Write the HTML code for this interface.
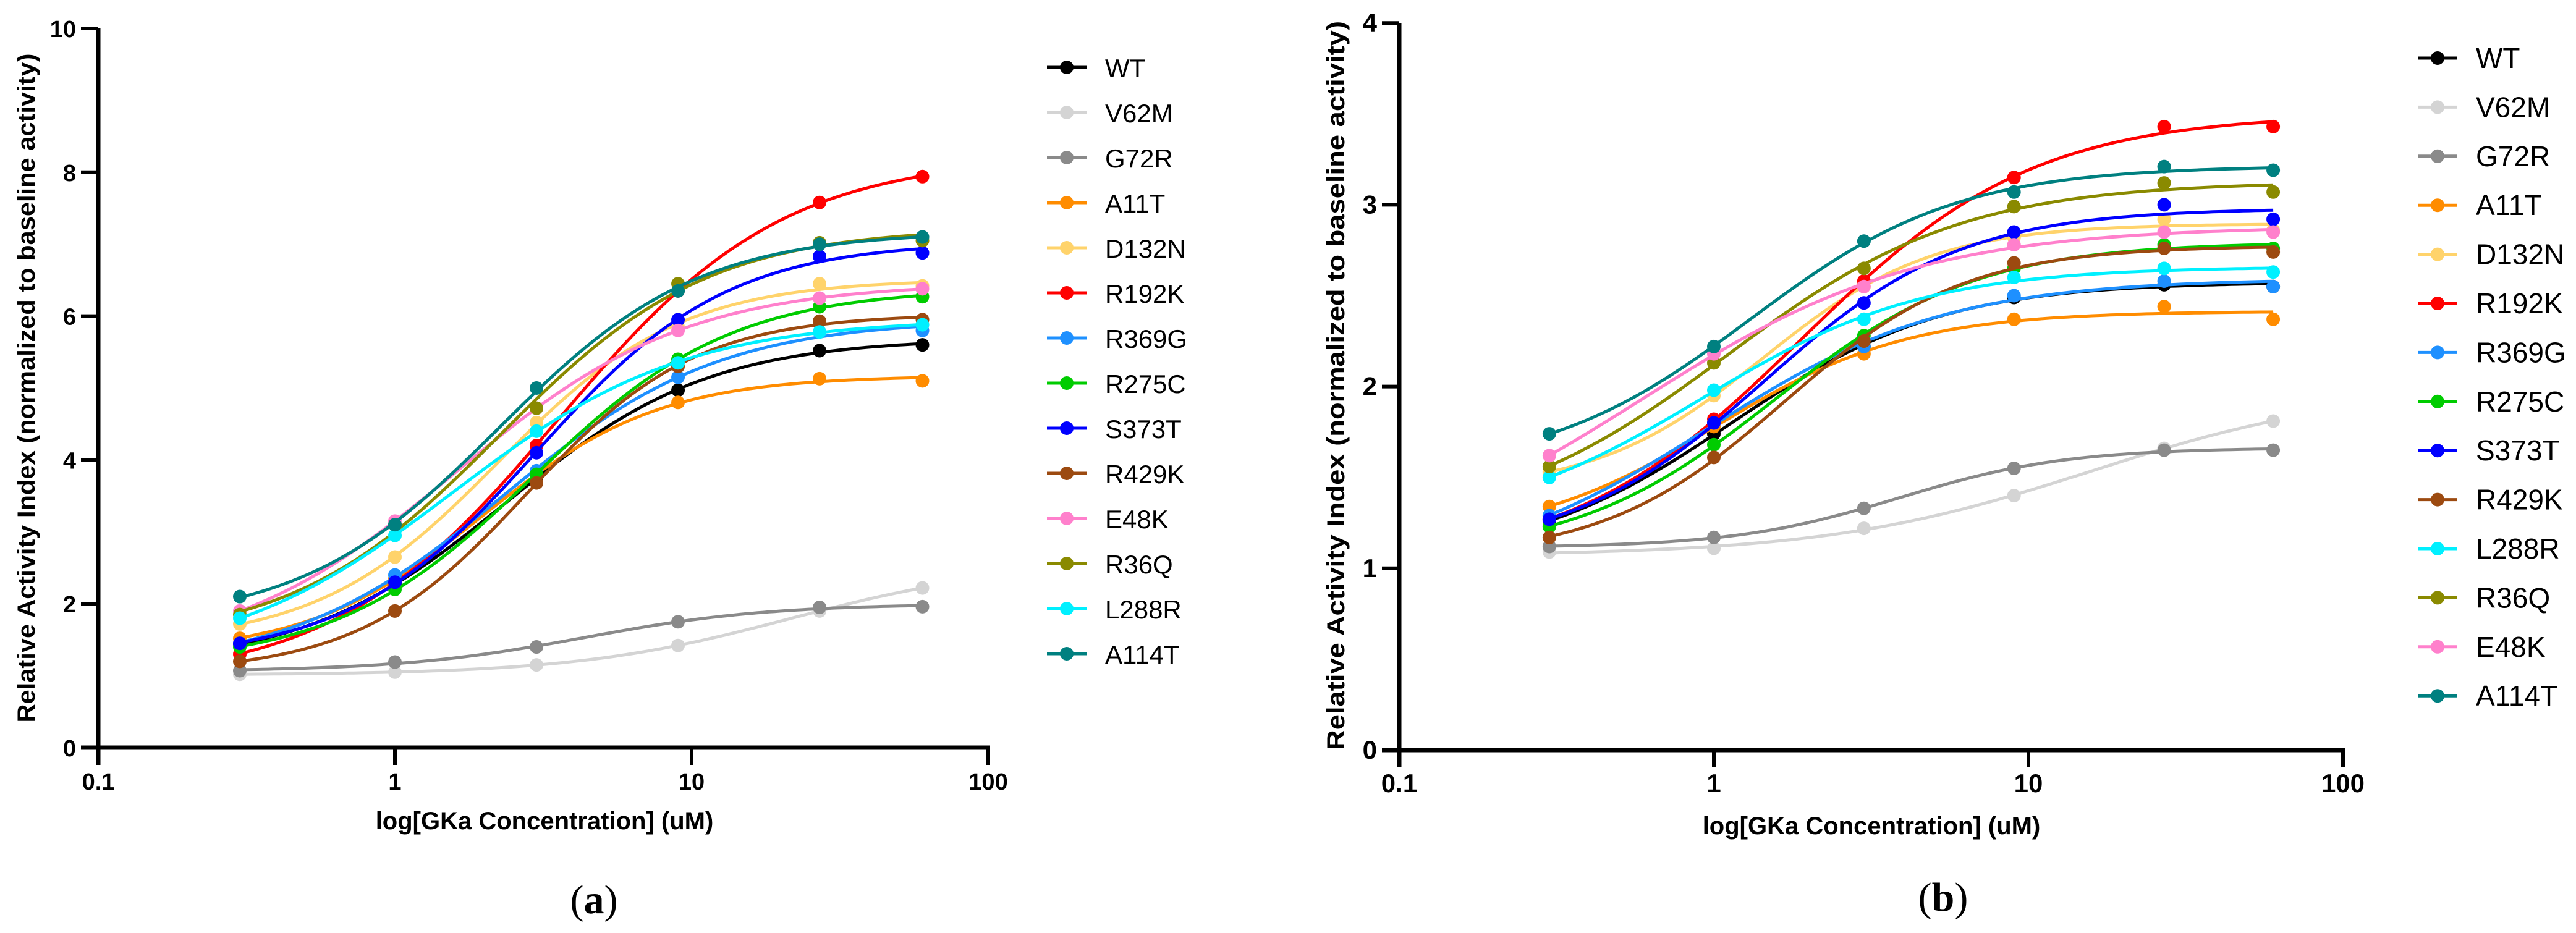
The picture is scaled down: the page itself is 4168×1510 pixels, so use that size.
<!DOCTYPE html>
<html><head><meta charset="utf-8"><style>
html,body{margin:0;padding:0;background:#fff;}
svg{display:block;}
</style></head><body>
<svg id="fig" width="4168" height="1510" viewBox="0 0 4168 1510" xmlns="http://www.w3.org/2000/svg" font-family="Liberation Sans, sans-serif">
<g id="panelA"></g>
<g id="panelB"></g>
<text x="961" y="1478" font-family="Liberation Serif, serif" font-size="66" text-anchor="middle">(<tspan font-weight="bold">a</tspan>)</text>
<text x="3144" y="1474" font-family="Liberation Serif, serif" font-size="66" text-anchor="middle">(<tspan font-weight="bold">b</tspan>)</text>
</svg>
<script>
const concentrations = [0.3, 1, 3, 9, 27, 60];
const xTicks = [0.1, 1, 10, 100];
const xTickLabels = ["0.1", "1", "10", "100"];
const colorsByName = {WT:"#000000",V62M:"#d4d4d4",G72R:"#8a8a8a",A11T:"#ff8c00",D132N:"#ffd36b",R192K:"#ff0000",R369G:"#1e90ff",R275C:"#00cc00",S373T:"#0000ff",R429K:"#9c4a10",E48K:"#ff80cc",R36Q:"#8a8a00",L288R:"#00f0ff",A114T:"#008080"};

const legendA = ["WT","V62M","G72R","A11T","D132N","R192K","R369G","R275C","S373T","R429K","E48K","R36Q","L288R","A114T"];
const seriesA = {
 WT:[1.44,2.27,3.75,4.97,5.52,5.6],
 V62M:[1.02,1.05,1.15,1.42,1.9,2.22],
 G72R:[1.07,1.19,1.4,1.75,1.95,1.96],
 A11T:[1.52,2.35,3.78,4.8,5.13,5.1],
 D132N:[1.72,2.65,4.52,5.85,6.45,6.42],
 R192K:[1.3,2.3,4.2,6.35,7.58,7.94],
 R369G:[1.45,2.4,3.85,5.15,5.78,5.8],
 R275C:[1.4,2.2,3.8,5.4,6.13,6.27],
 S373T:[1.45,2.3,4.1,5.95,6.83,6.88],
 R429K:[1.2,1.9,3.68,5.3,5.93,5.95],
 E48K:[1.9,3.15,4.72,5.8,6.25,6.38],
 R36Q:[1.85,3.1,4.72,6.45,7.02,7.05],
 L288R:[1.8,2.95,4.4,5.35,5.78,5.88],
 A114T:[2.1,3.1,5.0,6.35,7.0,7.1]
};
const yTicksA = [0,2,4,6,8,10];

const legendB = ["WT","V62M","G72R","A11T","D132N","R192K","R369G","R275C","S373T","R429K","L288R","R36Q","E48K","A114T"];
const seriesB = {
 WT:[1.26,1.74,2.22,2.49,2.56,2.55],
 V62M:[1.09,1.11,1.22,1.4,1.66,1.81],
 G72R:[1.12,1.17,1.33,1.55,1.65,1.65],
 A11T:[1.34,1.78,2.18,2.37,2.44,2.37],
 D132N:[1.53,1.95,2.55,2.82,2.92,2.86],
 R192K:[1.27,1.82,2.58,3.15,3.43,3.43],
 R369G:[1.29,1.8,2.22,2.5,2.58,2.55],
 R275C:[1.23,1.68,2.28,2.65,2.78,2.76],
 S373T:[1.27,1.8,2.46,2.85,3.0,2.92],
 R429K:[1.17,1.61,2.25,2.68,2.76,2.74],
 L288R:[1.5,1.98,2.37,2.6,2.65,2.63],
 R36Q:[1.56,2.13,2.65,2.99,3.12,3.07],
 E48K:[1.62,2.18,2.55,2.78,2.85,2.85],
 A114T:[1.74,2.22,2.8,3.07,3.21,3.19]
};
const yTicksB = [0,1,2,3,4];

const NS="http://www.w3.org/2000/svg";
function mk(parent, tag, attrs){const e=document.createElementNS(NS,tag);for(const k in attrs)e.setAttribute(k,attrs[k]);parent.appendChild(e);return e;}

// 4-parameter logistic fit (Nelder-Mead) to the read data
function f4(p, lx){ return p[0] + (p[1]-p[0])/(1+Math.pow(10,(p[2]-lx)*Math.abs(p[3]))); }
function fit4PL(vals){
  const lx=concentrations.map(c=>Math.log10(c));
  const sse=p=>{let s=0;for(let i=0;i<lx.length;i++){const r=f4(p,lx[i])-vals[i];s+=r*r;} if(Math.abs(p[3])>3)s+=(Math.abs(p[3])-3)*10; return s;};
  const mn=Math.min(...vals), mx=Math.max(...vals);
  let simplex=[[mn*0.9,mx,0.5,1]];
  const steps=[0.3,0.5,0.3,0.3];
  for(let k=0;k<4;k++){const q=simplex[0].slice();q[k]+=steps[k];simplex.push(q);}
  let fv=simplex.map(sse);
  for(let it=0;it<3000;it++){
    const idx=[0,1,2,3,4].sort((a,b)=>fv[a]-fv[b]);
    simplex=idx.map(i=>simplex[i]); fv=idx.map(i=>fv[i]);
    const c=[0,0,0,0];
    for(let i=0;i<4;i++)for(let k=0;k<4;k++)c[k]+=simplex[i][k]/4;
    const w=simplex[4];
    const xr=c.map((v,k)=>v+(v-w[k])), fr=sse(xr);
    if(fr<fv[0]){const xe=c.map((v,k)=>v+2*(v-w[k])),fe=sse(xe); if(fe<fr){simplex[4]=xe;fv[4]=fe;}else{simplex[4]=xr;fv[4]=fr;}}
    else if(fr<fv[3]){simplex[4]=xr;fv[4]=fr;}
    else{const xc=c.map((v,k)=>v+0.5*(w[k]-v)),fc=sse(xc);
      if(fc<fv[4]){simplex[4]=xc;fv[4]=fc;}
      else{for(let i=1;i<5;i++){simplex[i]=simplex[i].map((v,k)=>simplex[0][k]+0.5*(v-simplex[0][k]));fv[i]=sse(simplex[i]);}}}
  }
  return simplex[0];
}

function drawPanel(g, cfg){
  const X = v => cfg.x0 + (Math.log10(v)+1)*cfg.decade;
  const Y = v => cfg.y0 - v*cfg.unit;
  const yTop = Y(cfg.yTicks[cfg.yTicks.length-1]);
  const ya = mk(g,"line",{x1:cfg.x0,y1:yTop,x2:cfg.x0,y2:cfg.y0+28,stroke:"#000","stroke-width":7});
  
  
  const xa = mk(g,"line",{x1:cfg.x0-28,y1:cfg.y0,x2:X(100)+3,y2:cfg.y0,stroke:"#000","stroke-width":7});
  
  
  cfg.yTicks.forEach(t=>{
    const y=Y(t);
    const tk=mk(g,"line",{x1:cfg.x0-28,y1:y,x2:cfg.x0,y2:y,stroke:"#000","stroke-width":6});
    
    
    const tl=mk(g,"text",{x:cfg.x0-36,y:y+14,"font-size":cfg.tickFont,"font-weight":"bold","text-anchor":"end"});
    tl.textContent=String(t);
    
    
  });
  xTicks.forEach((t,i)=>{
    const x=X(t);
    const tk=mk(g,"line",{x1:x,y1:cfg.y0,x2:x,y2:cfg.y0+28,stroke:"#000","stroke-width":6});
    
    
    const tl=mk(g,"text",{x:x,y:cfg.y0+68,"font-size":cfg.tickFont,"font-weight":"bold","text-anchor":"middle"});
    tl.textContent=xTickLabels[i];
    
    
  });
  const xt=mk(g,"text",{x:cfg.xTitleX,y:cfg.xTitleY,"font-size":40,"font-weight":"bold","text-anchor":"middle"});
  xt.textContent="log[GKa Concentration] (uM)";
  
  
  const yt=mk(g,"text",{x:0,y:0,"font-size":40,"font-weight":"bold","text-anchor":"middle",transform:"translate("+cfg.yTitleX+","+cfg.yTitleY+") rotate(-90)",textLength:cfg.yTitleLen,lengthAdjust:"spacingAndGlyphs"});
  yt.textContent="Relative Activity Index (normalized to baseline activity)";
  
  
  cfg.order.forEach(name=>{
    const vals=cfg.series[name], col=colorsByName[name];
    const sg=mk(g,"g",{});
    
    
    const p=fit4PL(vals);
    const l0=Math.log10(concentrations[0]), l1=Math.log10(concentrations[concentrations.length-1]);
    let d="";
    for(let i=0;i<=120;i++){
      const lx=l0+(l1-l0)*i/120;
      d+=(i?" L":"M")+X(Math.pow(10,lx)).toFixed(1)+","+Y(f4(p,lx)).toFixed(1);
    }
    const path=mk(sg,"path",{d:d,fill:"none",stroke:col,"stroke-width":5});
    
    
    vals.forEach((v,i)=>{
      const c=mk(sg,"circle",{cx:X(concentrations[i]),cy:Y(v),r:11,fill:col});
      
      
    });
  });
  cfg.order.forEach((name,i)=>{
    const y=cfg.legY+i*cfg.legStep, col=colorsByName[name];
    const lg=mk(g,"g",{});
    
    
    mk(lg,"line",{x1:cfg.legX-32,y1:y,x2:cfg.legX+32,y2:y,stroke:col,"stroke-width":5});
    mk(lg,"circle",{cx:cfg.legX,cy:y,r:11,fill:col});
    const t=mk(lg,"text",{x:cfg.legX+62,y:y+16,"font-size":cfg.legFont});
    t.textContent=name;
  });
}

drawPanel(document.getElementById('panelA'),{
  x0:159, decade:480, y0:1210, unit:116.4, yTicks:yTicksA, tickFont:38,
  series:seriesA, order:legendA,
  legX:1726, legY:109, legStep:73, legFont:42,
  xTitleX:881, xTitleY:1342, yTitleX:56, yTitleY:628, yTitleLen:1083
});
drawPanel(document.getElementById('panelB'),{
  x0:2264, decade:509, y0:1214, unit:294.2, yTicks:yTicksB, tickFont:42,
  series:seriesB, order:legendB,
  legX:3944, legY:94, legStep:79.4, legFont:46,
  xTitleX:3028, xTitleY:1350, yTitleX:2175, yTitleY:624, yTitleLen:1180
});
</script>
</body></html>
